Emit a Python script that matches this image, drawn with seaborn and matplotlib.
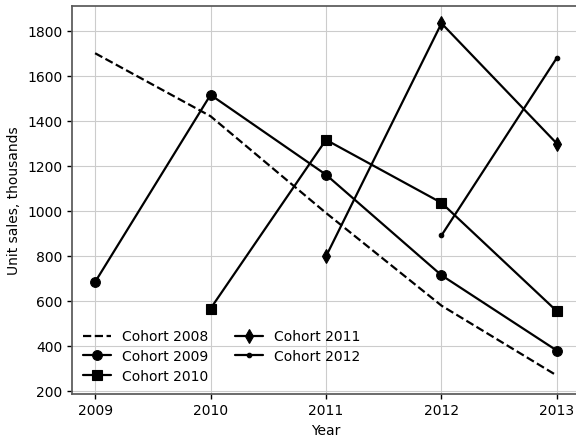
import matplotlib
matplotlib.use("Agg")
import matplotlib.pyplot as plt
import seaborn as sns
import pandas as pd

years = [2009, 2010, 2011, 2012, 2013]

cohort_2008 = [1700, 1420, 990, 578, 267]
cohort_2009 = [683, 1515, 1160, 713, 378]
cohort_2010 = [565, 1315, 1035, 553]
cohort_2011 = [797, 1833, 1298]
cohort_2012 = [890, 1680]

cohort_names = ["Cohort 2008", "Cohort 2009", "Cohort 2010", "Cohort 2011", "Cohort 2012"]
cohort_values = [cohort_2008, cohort_2009, cohort_2010, cohort_2011, cohort_2012]

sns.set_style("whitegrid", {
    "axes.edgecolor": "0.35",
    "grid.color": "0.8",
    "xtick.bottom": True,
    "ytick.left": True,
    "xtick.color": "0.0",
    "ytick.color": "0.0",
    "axes.labelcolor": "0.0",
    "text.color": "0.0",
})
plt.rcParams["font.family"] = ["DejaVu Sans"]
plt.rcParams["font.size"] = 10
plt.rcParams["xtick.major.size"] = 3.5
plt.rcParams["ytick.major.size"] = 3.5
plt.rcParams["xtick.major.width"] = 1.0
plt.rcParams["ytick.major.width"] = 1.0

frames = []
for name, vals in zip(cohort_names, cohort_values):
    frames.append(pd.DataFrame({"Year": years[-len(vals):], "Sales": vals, "Cohort": name}))
df = pd.concat(frames, ignore_index=True)

styles = {
    "Cohort 2008": dict(linestyle="--"),
    "Cohort 2009": dict(linestyle="-", marker="o", markersize=7),
    "Cohort 2010": dict(linestyle="-", marker="s", markersize=6.5),
    "Cohort 2011": dict(linestyle="-", marker="d", markersize=7.5),
    "Cohort 2012": dict(linestyle="-", marker=".", markersize=6.5),
}

fig = plt.figure(figsize=(5.76, 4.39), dpi=100)
ax = fig.add_axes([0.125, 0.101, 0.882, 0.883])

for name in cohort_names:
    sub = df[df["Cohort"] == name]
    sns.lineplot(data=sub, x="Year", y="Sales", ax=ax, color="black",
                 linewidth=1.6, label=name, mec="black", mfc="black",
                 markeredgewidth=0.8, **styles[name])

ax.set_xticks(years)
ax.set_xticklabels([str(y) for y in years])
ax.set_yticks([200, 400, 600, 800, 1000, 1200, 1400, 1600, 1800])
ax.set_xlim(2008.8, 2013.2)
ax.set_ylim(186.7, 1909.8)
ax.set_xlabel("Year")
ax.set_ylabel("Unit sales, thousands")
for s in ax.spines.values():
    s.set_linewidth(1.25)

ax.legend(loc="lower left", ncol=2, frameon=False, handlelength=2.0,
          columnspacing=1.95, labelspacing=0.4, borderaxespad=0.4,
          handletextpad=0.8)

fig.savefig("out.png", dpi=100)
